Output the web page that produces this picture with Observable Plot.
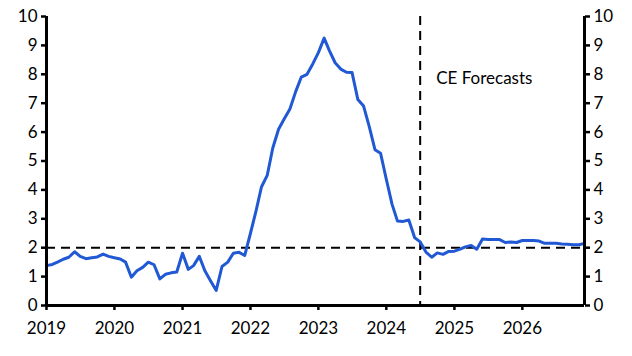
<!DOCTYPE html>
<html>
<head>
<meta charset="utf-8">
<script src="https://cdn.jsdelivr.net/npm/d3@7"></script>
<script src="https://cdn.jsdelivr.net/npm/@observablehq/plot@0.6"></script>
<style>
  html, body { margin: 0; padding: 0; background: #fff; }
  #chart svg { display: block; }
</style>
</head>
<body>
<div id="chart"></div>
<script>
// Monthly series, Jan 2019 .. Dec 2026 (actuals to Jun 2024, then CE forecasts)
const startYear = 2019;
const values = [
  1.38, 1.42, 1.50, 1.60, 1.67, 1.86, 1.70, 1.62, 1.65, 1.68, 1.78, 1.70,
  1.65, 1.61, 1.50, 0.98, 1.20, 1.32, 1.50, 1.41, 0.92, 1.08, 1.13, 1.16,
  1.81, 1.25, 1.38, 1.70, 1.20, 0.85, 0.52, 1.35, 1.50, 1.81, 1.84, 1.73,
  2.50, 3.30, 4.10, 4.50, 5.45, 6.10, 6.45, 6.80, 7.40, 7.90, 8.00, 8.35,
  8.75, 9.25, 8.82, 8.40, 8.18, 8.07, 8.06, 7.13, 6.90, 6.20, 5.39, 5.27,
  4.37, 3.50, 2.92, 2.91, 2.96, 2.35, 2.20, 1.85, 1.67, 1.82, 1.77, 1.87,
  1.88, 1.95, 2.03, 2.08, 1.95, 2.30, 2.28, 2.28, 2.28, 2.18, 2.20, 2.18,
  2.25, 2.25, 2.25, 2.23, 2.15, 2.15, 2.15, 2.13, 2.12, 2.10, 2.10, 2.15
];
const yTicks = [0, 1, 2, 3, 4, 5, 6, 7, 8, 9, 10];
const xTickYears = [2019, 2020, 2021, 2022, 2023, 2024, 2025, 2026];
const targetLevel = [2];
const forecastStart = [new Date(Date.UTC(2024, 6, 1))];
const forecastLabel = ["CE Forecasts"];

const data = values.map((v, i) => ({ date: new Date(Date.UTC(startYear, i, 1)), value: v }));
const xDomain = [data[0].date, data[data.length - 1].date];
const xTicks = xTickYears.map(y => new Date(Date.UTC(y, 0, 1)));

const font = "Lato, 'Noto Sans', sans-serif";

const chart = Plot.plot({
  width: 632,
  height: 356,
  marginLeft: 46,
  marginRight: 48,
  marginTop: 16,
  marginBottom: 51,
  style: { fontFamily: font, fontSize: "17px", color: "#000", background: "#fff" },
  x: { type: "utc", domain: xDomain },
  y: { domain: [0, 10] },
  marks: [
    Plot.ruleY(targetLevel, { stroke: "#000", strokeWidth: 2, strokeDasharray: "9,6" }),
    Plot.ruleX(forecastStart, { stroke: "#000", strokeWidth: 2, strokeDasharray: "9,6" }),
    Plot.lineY(data, { x: "date", y: "value", stroke: "#2158d4", strokeWidth: 3, strokeLinejoin: "round" }),
    Plot.text(forecastLabel, { x: forecastStart, frameAnchor: "top", dy: 55, dx: 16, textAnchor: "start", text: d => d, fontSize: 17, fill: "#000" }),
    Plot.axisY({ anchor: "left", ticks: yTicks, tickSize: 5, tickPadding: 4, tickFormat: d => d, label: null, strokeWidth: 2.5 }),
    Plot.axisY({ anchor: "right", ticks: yTicks, tickSize: 5, tickPadding: 4, tickFormat: d => d, label: null, strokeWidth: 2.5 }),
    Plot.axisX({ ticks: xTicks, tickSize: 5, tickPadding: 11, tickFormat: d => String(d.getUTCFullYear()), label: null, strokeWidth: 2.5 }),
    Plot.ruleX([xDomain[0]], { stroke: "#000", strokeWidth: 3 }),
    Plot.ruleX([xDomain[1]], { stroke: "#000", strokeWidth: 3 }),
    Plot.ruleY([0], { stroke: "#000", strokeWidth: 3 })
  ]
});
document.getElementById("chart").appendChild(chart);
</script>
</body>
</html>
